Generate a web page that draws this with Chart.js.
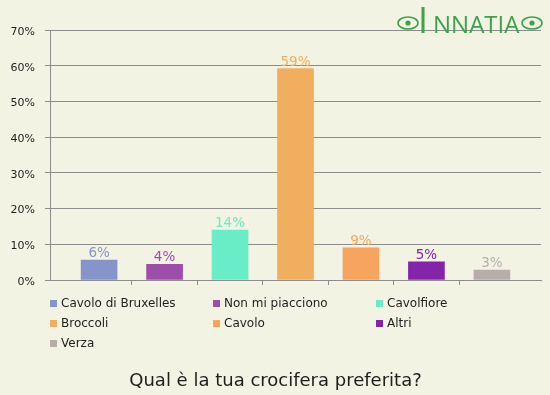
<!DOCTYPE html>
<html>
<head>
<meta charset="utf-8">
<script src="https://cdn.jsdelivr.net/npm/chart.js@4"></script>
<style>
  html, body { margin: 0; padding: 0; background: #f3f3e3; }
  #wrap { width: 550px; height: 395px; position: relative; }
</style>
</head>
<body>
<div id="wrap"><canvas id="chart-canvas" width="550" height="395"></canvas></div>
<script>
const categories = ["Cavolo di Bruxelles", "Non mi piacciono", "Cavolfiore", "Broccoli", "Cavolo", "Altri", "Verza"];
const percentages = [5.6, 4.4, 14.0, 59.2, 9.0, 5.1, 2.8];
const yTicks = [0, 10, 20, 30, 40, 50, 60, 70];
const barColors = ["#8595c9", "#9d4ea9", "#69edc6", "#f2ae5f", "#f6a45e", "#8424a9", "#b7aeab"];
const chartTitle = "Qual è la tua crocifera preferita?";

const gridColor = "#8c8c8c";
const textColor = "#1e1e1e";
const fontFamily = "'DejaVu Sans', Verdana, sans-serif";

// value labels above bars, legend grid, title and logo
const extras = {
  id: "extras",
  beforeDraw(chart) {
    const ctx = chart.ctx;
    ctx.save();
    ctx.fillStyle = "#f3f3e3";
    ctx.fillRect(0, 0, chart.width, chart.height);
    ctx.restore();
  },
  afterDatasetsDraw(chart) {
    const ctx = chart.ctx;
    const meta = chart.getDatasetMeta(0);
    ctx.save();
    ctx.font = "13.5px " + fontFamily;
    ctx.textAlign = "center";
    ctx.textBaseline = "alphabetic";
    meta.data.forEach((bar, i) => {
      ctx.fillStyle = barColors[i];
      ctx.fillText(Math.round(percentages[i]) + "%", bar.x, bar.y - 3);
    });
    ctx.restore();
  },
  afterDraw(chart) {
    const ctx = chart.ctx;
    ctx.save();

    // legend, 3 columns
    ctx.font = "12px " + fontFamily;
    ctx.textAlign = "left";
    ctx.textBaseline = "alphabetic";
    categories.forEach((name, i) => {
      const col = i % 3;
      const row = Math.floor(i / 3);
      const x = 50 + col * 163;
      const y = 307 + row * 20;
      ctx.fillStyle = barColors[i];
      ctx.fillRect(x, y - 7, 7, 7);
      ctx.fillStyle = textColor;
      ctx.fillText(name, x + 11, y);
    });

    // title
    ctx.font = "18px " + fontFamily;
    ctx.textAlign = "center";
    ctx.fillStyle = textColor;
    ctx.fillText(chartTitle, 275.5, 386);

    // logo
    const green = "#3ea24c";
    ctx.fillStyle = green;
    ctx.strokeStyle = green;
    ctx.lineWidth = 1.6;
    [[408, 23], [532, 23]].forEach(([cx, cy]) => {
      ctx.beginPath();
      ctx.ellipse(cx, cy, 10, 6, 0, 0, Math.PI * 2);
      ctx.stroke();
      ctx.beginPath();
      ctx.arc(cx, cy, 2.6, 0, Math.PI * 2);
      ctx.fill();
    });
    ctx.textAlign = "left";
    ctx.font = "36px 'Open Sans', sans-serif";
    ctx.fillText("I", 418, 33);
    ctx.font = "24px 'Open Sans', sans-serif";
    ctx.fillText("NNATIA", 433, 33);

    ctx.restore();
  }
};

new Chart(document.getElementById("chart-canvas"), {
  type: "bar",
  data: {
    datasets: [{
      data: percentages.map((v, i) => ({ x: i, y: v })),
      backgroundColor: barColors,
      borderWidth: 0,
      barThickness: 36
    }]
  },
  options: {
    responsive: false,
    animation: false,
    layout: { padding: { top: 30, right: 9, left: 0, bottom: 0 } },
    plugins: {
      legend: { display: false },
      title: { display: false },
      tooltip: { enabled: false }
    },
    scales: {
      x: {
        type: "linear",
        min: -0.75,
        max: 6.75,
        offset: false,
        afterBuildTicks: (scale) => {
          scale.ticks = [0.5, 1.5, 2.5, 3.5, 4.5, 5.5].map((v) => ({ value: v }));
        },
        afterFit: (scale) => { scale.height = 115; },
        ticks: { callback: () => "", autoSkip: false },
        grid: { offset: false, drawOnChartArea: false, drawTicks: true, tickLength: 5, color: gridColor, lineWidth: 1 },
        border: { color: gridColor, width: 1 }
      },
      y: {
        min: 0,
        max: 70,
        afterBuildTicks: (scale) => {
          scale.ticks = yTicks.map((v) => ({ value: v }));
        },
        afterFit: (scale) => { scale.width = 50; },
        ticks: {
          callback: (v) => v + "%",
          color: textColor,
          font: { family: fontFamily, size: 11 },
          padding: 10,
          labelOffset: 2
        },
        grid: { color: gridColor, lineWidth: 1, tickLength: 5 },
        border: { color: gridColor, width: 1 }
      }
    }
  },
  plugins: [extras]
});
</script>
</body>
</html>
